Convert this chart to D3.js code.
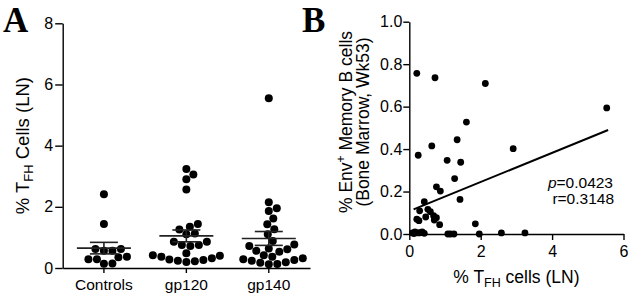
<!DOCTYPE html>
<html>
<head>
<meta charset="utf-8">
<script src="https://cdn.jsdelivr.net/npm/d3@7"></script>
<style>
  body { margin: 0; background: #fff; }
  svg { display: block; }
  text { font-family: "Liberation Sans", Arial, sans-serif; fill: #000; }
  .axis path, .axis line { stroke: #000; stroke-width: 1.4; }
</style>
</head>
<body>
<svg id="chart" width="631" height="295"></svg>
<script>
// Panel A: % TFH cells (LN) per group
const groups = ['Controls', 'gp120', 'gp140'];
const controlsTfh = [2.41, 1.44, 0.62, 0.56, 0.56, 0.62, 0.35, 0.29, 0.29, 0.37, 0.14, 0.15];
const gp120Tfh = [3.24, 3.06, 2.90, 2.57, 1.44, 1.35, 1.26, 1.13, 1.10, 0.86, 0.86, 0.75,
  0.75, 0.72, 0.48, 0.42, 0.40, 0.37, 0.32, 0.28, 0.26, 0.24, 0.22, 0.20];
const gp140Tfh = [5.55, 2.15, 1.95, 1.86, 1.62, 1.43, 1.27, 1.10, 0.88, 0.77, 0.72, 0.64,
  0.61, 0.56, 0.53, 0.42, 0.37, 0.32, 0.29, 0.26, 0.24, 0.19, 0.17, 0.13, 0.12];
const groupValues = [controlsTfh, gp120Tfh, gp140Tfh];
const yTicksA = [0, 2, 4, 6, 8];

// Panel B: TFH (LN) vs Env+ memory B cells (bone marrow, wk53)
const tfhX = [0.21, 0.72, 2.13, 5.53, 1.60, 1.34, 0.63, 2.91, 0.25, 1.06, 1.44, 1.27, 0.76, 0.87,
  1.42, 0.42, 0.29, 0.52, 0.59, 0.21, 0.27, 0.46, 0.68, 0.76, 0.70, 0.85, 1.85, 0.09, 0.16,
  0.24, 0.36, 0.42, 1.08, 1.15, 1.25, 1.96, 2.58, 3.24, 0.13, 0.30];
const envY = [0.757, 0.736, 0.709, 0.594, 0.527, 0.444, 0.415, 0.402, 0.371, 0.347, 0.338, 0.261,
  0.222, 0.202, 0.163, 0.152, 0.109, 0.116, 0.105, 0.070, 0.063, 0.080, 0.086, 0.077, 0.066,
  0.044, 0.048, 0.005, 0.010, 0.005, 0.010, 0.003, 0, 0, 0, 0, 0.005, 0.005, 0.002, 0.006];
const xTicksB = [0, 2, 4, 6];
const yTicksB = [0, 0.2, 0.4, 0.6, 0.8, 1.0];
const fitSlope = 0.0686;
const fitIntercept = 0.108;
const statsText = ['=0.0423', 'r=0.3148'];

const svg = d3.select('#chart');

// ---------- Panel A ----------
const a = { left: 62.7, right: 310, top: 23.3, bottom: 268 };
const xA = d3.scaleBand().domain(groups).range([a.left, a.right]);
const yA = d3.scaleLinear().domain([0, 8]).range([a.bottom, a.top]);

svg.append('g')
  .attr('class', 'axis')
  .attr('transform', `translate(${a.left},0)`)
  .call(d3.axisLeft(yA).tickValues(yTicksA).tickSize(7.5).tickSizeOuter(0).tickPadding(2))
  .call((g) => g.selectAll('text').attr('font-size', 16).attr('font-family', null));

svg.append('g')
  .attr('class', 'axis')
  .attr('transform', `translate(0,${a.bottom})`)
  .call(d3.axisBottom(xA).tickSize(5).tickSizeOuter(0).tickPadding(5.6))
  .call((g) => g.selectAll('text').attr('font-size', 15.5).attr('font-family', null));

// simple beeswarm: each dot takes the nearest free horizontal offset
function swarm(values, cx, y, r) {
  const placed = [];
  values.slice().sort((p, q) => p - q).forEach((v) => {
    const py = y(v);
    for (let k = 0; k < 200; k++) {
      const off = k === 0 ? 0 : (k % 2 ? 1 : -1) * Math.ceil(k / 2) * 0.5;
      const px = cx + off;
      const ok = placed.every((p) => (p.x - px) ** 2 + (p.y - py) ** 2 >= (2 * r + 0.3) ** 2);
      if (ok) { placed.push({ x: px, y: py, v }); break; }
    }
  });
  return placed;
}

const rA = 4;
const groupG = svg.append('g').selectAll('g.group')
  .data(groups)
  .join('g')
  .attr('class', 'group');

groupG.each(function (name, i) {
  const g = d3.select(this);
  const vals = groupValues[i];
  const cx = xA(name) + xA.bandwidth() / 2;
  const mean = d3.mean(vals);
  const sem = d3.deviation(vals) / Math.sqrt(vals.length);

  g.selectAll('circle')
    .data(swarm(vals, cx, yA, rA))
    .join('circle')
    .attr('cx', (d) => d.x)
    .attr('cy', (d) => d.y)
    .attr('r', rA)
    .attr('fill', '#000');

  const lineColor = '#222';
  g.append('line')
    .attr('x1', cx - 27).attr('x2', cx + 27)
    .attr('y1', yA(mean)).attr('y2', yA(mean))
    .attr('stroke', lineColor).attr('stroke-width', 1.6);
  g.append('line')
    .attr('x1', cx).attr('x2', cx)
    .attr('y1', yA(mean - sem)).attr('y2', yA(mean + sem))
    .attr('stroke', lineColor).attr('stroke-width', 1.6);
  [mean - sem, mean + sem].forEach((v) => {
    g.append('line')
      .attr('x1', cx - 14).attr('x2', cx + 14)
      .attr('y1', yA(v)).attr('y2', yA(v))
      .attr('stroke', lineColor).attr('stroke-width', 1.6);
  });
});

// y title A
const titleA = svg.append('text')
  .attr('transform', `translate(29,${(a.top + a.bottom) / 2}) rotate(-90)`)
  .attr('text-anchor', 'middle')
  .attr('font-size', 18.5);
titleA.append('tspan').text('% T');
titleA.append('tspan').attr('font-size', 13).attr('dy', 4).text('FH');
titleA.append('tspan').attr('dy', -4).text(' Cells (LN)');

// ---------- Panel B ----------
const b = { left: 409.3, right: 623.5, top: 21.7, bottom: 234 };
const xB = d3.scaleLinear().domain([0, 6]).range([b.left, b.right]);
const yB = d3.scaleLinear().domain([0, 1]).range([b.bottom, b.top]);

svg.append('g')
  .attr('class', 'axis')
  .attr('transform', `translate(${b.left},0)`)
  .call(d3.axisLeft(yB).tickValues(yTicksB).tickFormat(d3.format('.1f')).tickSize(6).tickSizeOuter(0).tickPadding(1))
  .call((g) => g.selectAll('text').attr('font-size', 16).attr('font-family', null));

svg.append('g')
  .attr('class', 'axis')
  .attr('transform', `translate(0,${b.bottom})`)
  .call(d3.axisBottom(xB).tickValues(xTicksB).tickFormat(d3.format('d')).tickSize(6).tickSizeOuter(0).tickPadding(5.6))
  .call((g) => g.selectAll('text').attr('font-size', 16).attr('font-family', null));

const pointsB = tfhX.map((x, i) => ({ x, y: envY[i] }));
const xExtent = d3.extent(tfhX);

svg.append('line')
  .attr('x1', xB(0.12)).attr('x2', xB(xExtent[1] + 0.04))
  .attr('y1', yB(fitIntercept + fitSlope * 0.12))
  .attr('y2', yB(fitIntercept + fitSlope * (xExtent[1] + 0.04)))
  .attr('stroke', '#000').attr('stroke-width', 2);

svg.append('g').selectAll('circle')
  .data(pointsB)
  .join('circle')
  .attr('cx', (d) => xB(d.x))
  .attr('cy', (d) => yB(d.y))
  .attr('r', 3.4)
  .attr('fill', '#000');

const stats = svg.append('g').attr('font-size', 15.5).attr('text-anchor', 'end');
const pText = stats.append('text').attr('x', 613).attr('y', 188);
pText.append('tspan').attr('font-style', 'italic').text('p');
pText.append('tspan').text(statsText[0]);
stats.append('text').attr('x', 614).attr('y', 204).text(statsText[1]);

// y title B (two lines)
const midB = 122;
const tB1 = svg.append('text')
  .attr('transform', `translate(352,${midB}) rotate(-90)`)
  .attr('text-anchor', 'middle')
  .attr('font-size', 17.5);
tB1.append('tspan').text('% Env');
tB1.append('tspan').attr('font-size', 12).attr('dy', -7).text('+');
tB1.append('tspan').attr('dy', 7).text(' Memory B cells');

svg.append('text')
  .attr('transform', `translate(369,${midB}) rotate(-90)`)
  .attr('text-anchor', 'middle')
  .attr('font-size', 17.5)
  .text('(Bone Marrow, Wk53)');

// x title B
const xtB = svg.append('text')
  .attr('x', (b.left + b.right) / 2)
  .attr('y', 283)
  .attr('text-anchor', 'middle')
  .attr('font-size', 17.5);
xtB.append('tspan').text('% T');
xtB.append('tspan').attr('font-size', 12.5).attr('dy', 4).text('FH');
xtB.append('tspan').attr('dy', -4).text(' cells (LN)');

// panel letters
svg.selectAll('text.panel')
  .data([{ t: 'A', x: 3 }, { t: 'B', x: 302 }])
  .join('text')
  .attr('class', 'panel')
  .attr('x', (d) => d.x)
  .attr('y', 32)
  .style('font-family', '"Liberation Serif", "Times New Roman", serif')
  .attr('font-weight', 'bold')
  .attr('font-size', 35)
  .text((d) => d.t);
</script>
</body>
</html>
